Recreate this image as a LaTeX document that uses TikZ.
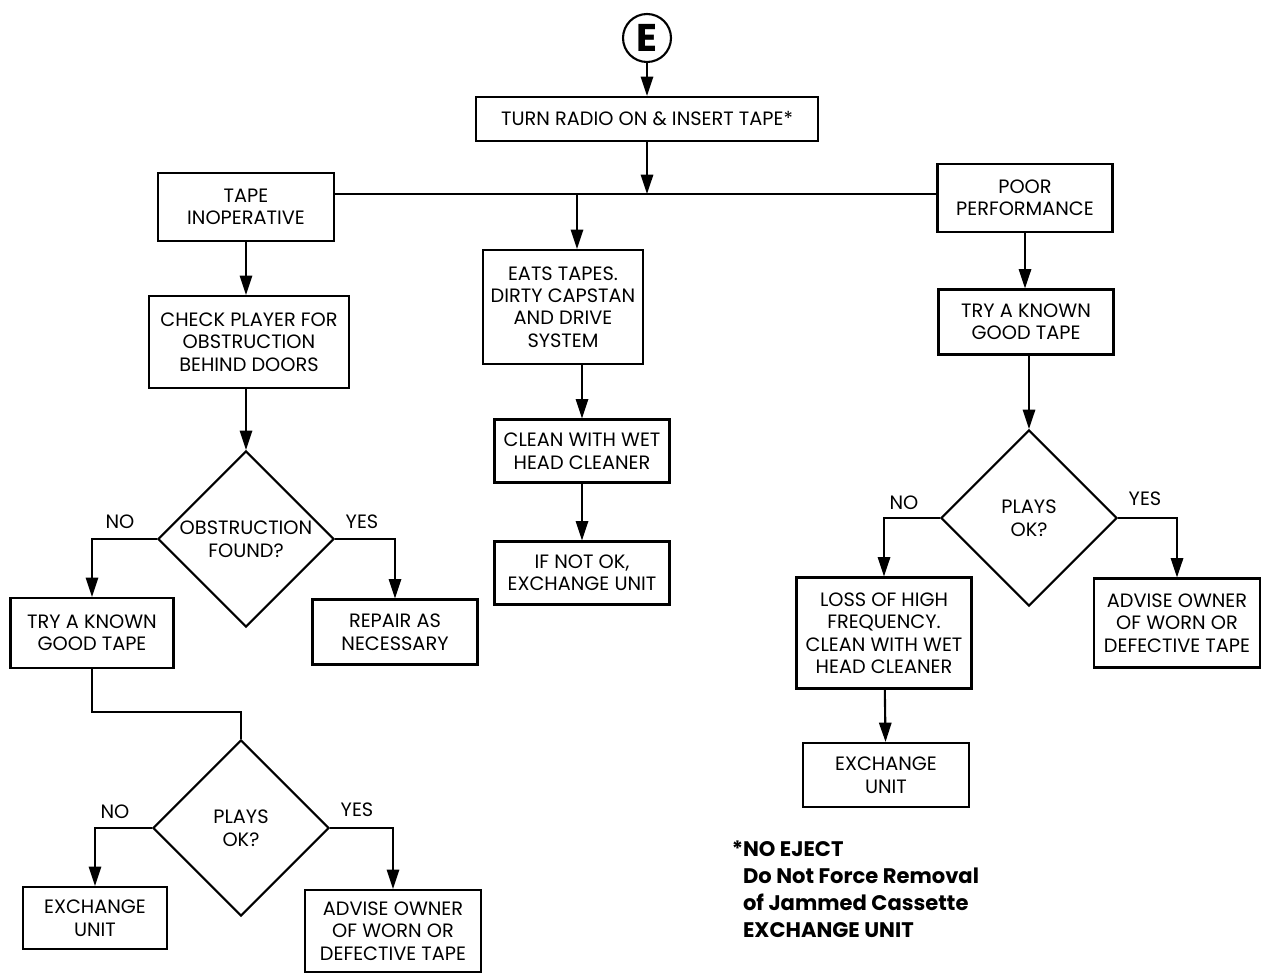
\documentclass[tikz,border=0pt]{standalone}
\usepackage{fontspec}
\setmainfont{Poppins}
\usetikzlibrary{shapes.geometric,arrows.meta}
\tikzset{
  box/.style={draw, line width=1.2pt, align=center, inner sep=0pt, font=\fontsize{11}{12.8}\selectfont},
  decision/.style={draw, diamond, line width=1.2pt, inner sep=0pt, minimum width=3.52cm, minimum height=3.52cm},
  answer/.style={inner sep=0pt, align=center, font=\fontsize{11}{12.8}\selectfont},
}
\begin{document}
\begin{tikzpicture}[x=0.02cm, y=-0.02cm, line width=1.2pt, >={Triangle[length=11pt,width=7pt]}]
\useasboundingbox (0,0) rectangle (1267,976);

% top
\node[draw, circle, minimum size=0.96cm, inner sep=0pt, font=\bfseries\fontsize{22}{22}\selectfont] (start) at (647,38) {E};
\node[box, minimum width=6.84cm, minimum height=0.88cm] (turn) at (647,119) {TURN RADIO ON \& INSERT TAPE*};
\coordinate (jn) at (647,194);
\coordinate (split) at (577,194);

% left column
\node[box, minimum width=3.52cm, minimum height=1.36cm] (tape) at (246,207) {TAPE\\INOPERATIVE};
\node[box, minimum width=4cm, minimum height=1.84cm] (check) at (249,342) {CHECK PLAYER FOR\\OBSTRUCTION\\BEHIND DOORS};
\node[decision] (obs) at (246,539) {};
\node[answer] (obsq) at (obs) {OBSTRUCTION\\FOUND?};
\node[box, minimum width=3.26cm, minimum height=1.4cm] (try1) at (92,633) {TRY A KNOWN\\GOOD TAPE};
\node[box, minimum width=3.3cm, minimum height=1.3cm] (repair) at (395,632) {REPAIR AS\\NECESSARY};
\node[decision] (plays1) at (241,828) {};
\node[answer] (plays1q) at (plays1) {PLAYS\\OK?};
\node[box, minimum width=2.88cm, minimum height=1.24cm] (exch1) at (95,918) {EXCHANGE\\UNIT};
\node[box, minimum width=3.52cm, minimum height=1.64cm] (adv1) at (393,931) {ADVISE OWNER\\OF WORN OR\\DEFECTIVE TAPE};
\coordinate (bend) at (170,712);

% middle column
\node[box, minimum width=3.2cm, minimum height=2.28cm] (eats) at (563,307) {EATS TAPES.\\DIRTY CAPSTAN\\AND DRIVE\\SYSTEM};
\node[box, minimum width=3.5cm, minimum height=1.26cm] (clean) at (582,451) {CLEAN WITH WET\\HEAD CLEANER};
\node[box, minimum width=3.5cm, minimum height=1.26cm] (ifnot) at (582,573) {IF NOT OK,\\EXCHANGE UNIT};

% right column
\node[box, minimum width=3.5cm, minimum height=1.36cm] (poor) at (1025,198) {POOR\\PERFORMANCE};
\node[box, minimum width=3.5cm, minimum height=1.3cm] (try2) at (1026,322) {TRY A KNOWN\\GOOD TAPE};
\node[decision] (plays2) at (1029,518) {};
\node[answer] (plays2q) at (plays2) {PLAYS\\OK?};
\node[box, minimum width=3.5cm, minimum height=2.22cm] (loss) at (884,633) {LOSS OF HIGH\\FREQUENCY.\\CLEAN WITH WET\\HEAD CLEANER};
\node[box, minimum width=3.32cm, minimum height=1.78cm] (adv2) at (1177,623) {ADVISE OWNER\\OF WORN OR\\DEFECTIVE TAPE};
\node[box, minimum width=3.32cm, minimum height=1.28cm] (exch2) at (886,775) {EXCHANGE\\UNIT};

% yes / no
\node[answer] (obsno) at (120,522) {NO};
\node[answer] (obsyes) at (362,522) {YES};
\node[answer] (p1no) at (115,812) {NO};
\node[answer] (p1yes) at (357,810) {YES};
\node[answer] (p2no) at (904,503) {NO};
\node[answer] (p2yes) at (1145,499) {YES};

% note
\node[anchor=north west, align=left, inner sep=0pt, font=\bfseries\fontsize{12}{15.4}\selectfont] (note) at (742,840) {\llap{*}NO EJECT\\Do Not Force Removal\\of Jammed Cassette\\EXCHANGE UNIT};

% connectors
\draw[->] (start) -- (turn);
\draw[->] (turn.south) -- (turn.south |- jn);
\draw (tape.east |- jn) -- (poor.west |- jn);
\draw[->] (split) -- (split |- eats.north);
\draw[->] (tape.south) -- (tape.south |- check.north);
\draw[->] (obs.north |- check.south) -- (obs.north);
\draw[->] (obs.west) -| (try1.north);
\draw[->] (obs.east) -| (repair.north);
\draw (try1.south) -- (try1.south |- bend) -- (plays1.north |- bend) -- (plays1.north);
\draw[->] (plays1.west) -| (exch1.north);
\draw[->] (plays1.east) -| (adv1.north);
\draw[->] (eats.south -| clean.north) -- (clean.north);
\draw[->] (clean) -- (ifnot);
\draw[->] (poor.south) -- (poor.south |- try2.north);
\draw[->] (plays2.north |- try2.south) -- (plays2.north);
\draw[->] (plays2.west) -| (loss.north);
\draw[->] (plays2.east) -| (adv2.north);
\draw[->] (loss) -- (exch2);
\end{tikzpicture}
\end{document}
